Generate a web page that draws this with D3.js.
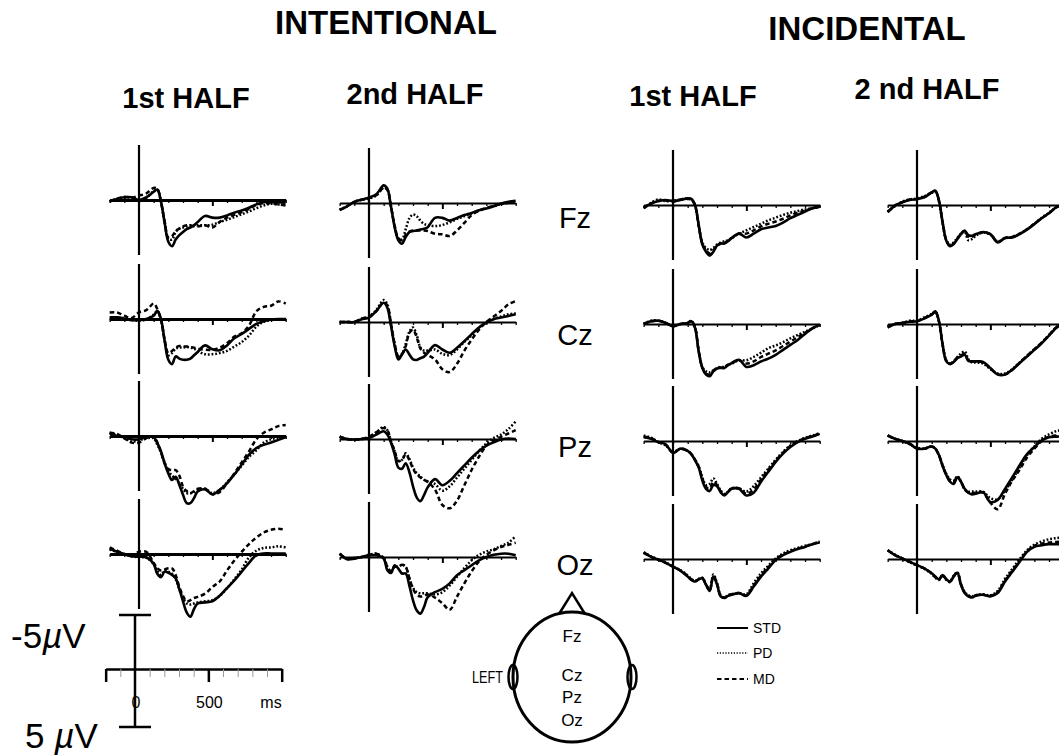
<!DOCTYPE html>
<html>
<head>
<meta charset="utf-8">
<script src="https://cdn.jsdelivr.net/npm/d3@7"></script>
<style>
  html, body { margin: 0; padding: 0; background: #fff; }
  svg { display: block; font-family: "Liberation Sans", Arial, sans-serif; }
</style>
</head>
<body>
<div id="chart"></div>
<script>
// sample times (ms) shared by every waveform
const times = [-200, -150, -100, -50, 0, 50, 100, 125, 150, 175, 200, 225, 250, 275, 300, 325, 350, 375, 400, 450, 500, 550, 600, 650, 700, 750, 800, 850, 900, 950, 1000];

const conditions = ['INTENTIONAL', 'INCIDENTAL'];
const halves = ['1st HALF', '2nd HALF', '1st HALF', '2 nd HALF'];
const electrodes = ['Fz', 'Cz', 'Pz', 'Oz'];
const seriesNames = ['STD', 'PD', 'MD'];
const timeTicks = d3.range(-200, 1001, 100);
const scaleLabels = [{ t: 0, text: '0' }, { t: 500, text: '500' }];

// amplitudes in µV (negative plotted up)
// intentional, 1st half
const int1FzStd = [0.15, -0.1, -0.25, -0.25, 0, -0.25, -0.75, -0.95, 0.15, 2.1, 3.8, 4.2, 3.6, 3.2, 2.9, 2.65, 2.5, 2.3, 2.0, 1.45, 1.6, 1.6, 1.4, 1.15, 0.95, 0.7, 0.4, 0.2, 0.2, 0.2, 0.25];
const int1FzPd  = [0.1, -0.1, -0.2, -0.2, 0, -0.2, -0.8, -0.9, 0.2, 2.0, 3.5, 3.6, 2.9, 2.6, 2.5, 2.4, 2.3, 2.3, 2.3, 2.3, 2.25, 2.0, 1.8, 1.55, 1.3, 1.05, 0.75, 0.5, 0.35, 0.4, 0.45];
const int1FzMd  = [0.1, -0.1, -0.3, -0.2, -0.4, -0.6, -1.1, -1.0, 0.2, 2.0, 3.4, 3.3, 2.8, 2.6, 2.4, 2.3, 2.3, 2.4, 2.4, 2.3, 2.5, 2.0, 1.6, 1.35, 1.1, 0.8, 0.45, 0.3, 0.3, 0.4, 0.5];
const int1CzStd = [-0.15, -0.15, -0.05, 0.1, 0.1, 0, -0.3, -0.75, 0, 2.0, 3.7, 4.1, 3.4, 3.6, 3.7, 3.7, 3.6, 3.3, 3.0, 2.4, 2.75, 2.85, 2.4, 1.75, 1.35, 0.9, 0.45, 0.2, 0.05, 0, 0];
const int1CzPd  = [0, -0.05, 0, 0.1, 0.15, 0.05, -0.4, -0.7, 0.1, 2.0, 3.3, 3.1, 2.7, 2.6, 2.6, 2.55, 2.6, 2.7, 2.9, 3.2, 3.2, 3.1, 2.9, 2.5, 2.1, 1.5, 0.7, 0.25, 0.1, 0.05, 0];
const int1CzMd  = [-0.6, -0.6, -0.3, -0.1, -0.6, -0.8, -1.4, -0.9, 0.1, 1.9, 3.1, 2.9, 2.6, 2.45, 2.5, 2.5, 2.55, 2.6, 2.7, 2.8, 2.8, 2.6, 2.2, 1.6, 1.3, 0.6, -0.7, -1.1, -1.2, -1.6, -1.4];
const int1PzStd = [-0.25, 0, 0.1, 0.3, 0.3, 0.05, 0.1, 0.65, 1.4, 2.5, 3.4, 4.0, 3.7, 4.45, 5.35, 6.1, 6.1, 5.65, 5.05, 4.85, 5.3, 4.9, 4.3, 3.5, 2.6, 1.7, 1.1, 0.8, 0.6, 0.35, 0.1];
const int1PzPd  = [-0.3, -0.1, 0.2, 0.5, 0.4, 0.2, 0.2, 0.8, 1.5, 2.4, 3.2, 3.6, 3.9, 4.3, 4.8, 5.2, 5.2, 5.1, 4.9, 4.8, 5.2, 4.9, 4.2, 3.5, 2.7, 1.9, 1.3, 0.6, 0.3, 0.15, 0.1];
const int1PzMd  = [-0.3, -0.2, 0.2, 0.6, 0.6, 0.2, 0.05, 0.6, 1.5, 2.5, 3.0, 3.1, 3.1, 3.6, 4.6, 5.0, 5.2, 5.0, 4.8, 4.8, 5.3, 5.1, 4.3, 3.4, 2.4, 1.4, 0.3, -0.3, -0.6, -0.9, -1.0];
const int1OzStd = [-0.5, -0.2, 0, 0.2, 0.25, 0.3, 0.9, 1.8, 2.1, 1.6, 1.7, 1.9, 2.2, 3.2, 4.3, 5.3, 5.7, 5.0, 4.5, 4.4, 4.3, 3.8, 3.1, 2.4, 1.6, 0.8, 0.1, -0.05, -0.05, -0.05, -0.05];
const int1OzPd  = [-0.4, -0.2, 0.05, 0.2, 0.3, 0.35, 0.9, 1.5, 1.9, 1.5, 1.6, 1.8, 2.3, 3.2, 4.0, 4.5, 4.6, 4.5, 4.4, 4.3, 4.2, 3.8, 3.1, 2.3, 1.4, 0.3, -0.3, -0.55, -0.6, -0.7, -0.6];
const int1OzMd  = [-0.6, -0.3, 0, 0.2, -0.2, -0.2, 0.8, 1.3, 1.5, 1.4, 1.3, 1.3, 1.9, 3.0, 3.8, 4.3, 4.2, 4.0, 3.9, 3.6, 3.0, 2.5, 1.5, 0.6, -0.2, -0.9, -1.5, -1.95, -2.2, -2.3, -2.2];

// intentional, 2nd half
const int2FzStd = [0.65, 0.3, -0.1, -0.3, -0.5, -0.8, -1.6, -1.3, 0.35, 2.2, 3.4, 3.7, 3.1, 2.65, 2.55, 2.5, 2.4, 2.35, 2.2, 1.35, 1.35, 1.6, 1.35, 1.1, 0.9, 0.65, 0.5, 0.3, 0.05, -0.1, -0.2];
const int2FzPd  = [0.6, 0.3, -0.1, -0.3, -0.4, -0.7, -1.4, -1.2, 0.3, 2.1, 3.2, 3.3, 2.4, 1.4, 1.05, 1.2, 1.6, 1.9, 2.0, 2.1, 2.0, 1.75, 1.45, 1.2, 0.95, 0.7, 0.5, 0.3, 0.1, 0, -0.1];
const int2FzMd  = [0.6, 0.3, -0.1, -0.3, -0.45, -0.7, -1.4, -1.2, 0.3, 2.1, 3.2, 3.4, 2.9, 2.6, 2.5, 2.5, 2.5, 2.5, 2.55, 2.8, 2.85, 3.0, 2.5, 1.8, 1.1, 0.7, 0.45, 0.25, 0.1, -0.05, -0.1];
const int2CzStd = [0, 0, 0, -0.25, -0.4, -1.0, -1.75, -1.3, 0.35, 2.2, 3.4, 2.95, 2.5, 2.95, 3.4, 3.45, 3.3, 3.15, 2.8, 2.1, 2.5, 2.8, 2.35, 1.75, 1.1, 0.5, 0.05, -0.25, -0.4, -0.55, -0.7];
const int2CzPd  = [0, 0, 0, -0.3, -0.5, -1.1, -2.0, -1.6, 0.2, 2.0, 3.1, 2.9, 2.0, 0.9, 0.5, 1.2, 2.3, 2.6, 2.6, 2.5, 2.9, 3.0, 2.5, 1.8, 1.2, 0.5, 0, -0.3, -0.5, -0.7, -0.8];
const int2CzMd  = [0, 0, 0, -0.3, -0.5, -1.0, -1.8, -1.5, 0.2, 2.0, 3.1, 2.9, 2.2, 1.0, 0.7, 1.4, 2.4, 2.8, 3.0, 3.4, 4.3, 4.55, 3.8, 2.6, 1.6, 0.7, 0, -0.5, -1.0, -1.6, -1.9];
const int2PzStd = [-0.2, 0, 0.05, 0, -0.1, -0.4, -0.7, -0.4, 0.35, 1.4, 2.6, 2.7, 2.2, 3.0, 4.3, 5.3, 5.65, 5.1, 4.4, 3.65, 4.2, 3.8, 3.1, 2.4, 1.7, 1.1, 0.6, 0.3, 0.05, -0.05, 0];
const int2PzPd  = [-0.2, 0, 0.05, 0, -0.2, -0.6, -1.1, -0.8, 0.2, 1.1, 2.0, 1.9, 1.3, 1.8, 2.6, 3.1, 3.4, 3.7, 3.85, 4.1, 4.7, 4.3, 3.5, 2.7, 1.9, 1.1, 0.4, -0.1, -0.4, -0.9, -1.6];
const int2PzMd  = [-0.2, 0, 0.05, 0, -0.2, -0.6, -1.0, -0.8, 0.2, 1.1, 2.0, 1.9, 1.4, 1.9, 2.7, 3.2, 3.5, 3.7, 3.9, 4.6, 6.0, 6.3, 5.6, 4.2, 2.8, 1.6, 0.6, 0.1, -0.2, -0.5, -0.8];
const int2OzStd = [-0.3, 0.2, 0.15, 0, -0.15, -0.15, 0.15, 1.2, 1.45, 0.75, 1.05, 1.5, 1.5, 2.6, 3.95, 4.85, 5.15, 4.55, 3.65, 3.2, 2.9, 2.4, 1.65, 1.2, 0.75, 0.3, 0, -0.2, -0.3, -0.3, -0.15];
const int2OzPd  = [-0.3, 0.15, 0.1, 0, -0.2, -0.3, 0.1, 0.9, 1.3, 0.9, 0.9, 0.7, 0.9, 1.9, 2.8, 3.2, 3.3, 3.3, 3.3, 3.4, 3.2, 2.6, 1.8, 1.0, 0.3, -0.2, -0.5, -0.7, -1.0, -1.3, -1.9];
const int2OzMd  = [-0.3, 0.15, 0.1, 0, -0.2, -0.3, 0.1, 0.9, 1.3, 0.9, 0.9, 0.7, 0.9, 1.9, 2.9, 3.4, 3.6, 3.5, 3.4, 3.7, 4.2, 4.8, 3.6, 2.4, 1.3, 0.4, -0.2, -0.6, -0.9, -1.1, -1.3];

// incidental, 1st half
const inc1FzStd = [0.3, -0.15, -0.35, -0.45, -0.35, -0.45, -0.6, -0.55, 0, 1.8, 3.6, 4.25, 4.6, 4.25, 3.7, 3.5, 3.5, 3.3, 3.0, 2.6, 2.95, 2.6, 2.2, 2.05, 1.9, 1.6, 1.2, 0.9, 0.6, 0.3, 0.15];
const inc1FzPd  = [0.3, -0.2, -0.5, -0.35, -0.4, -0.5, -0.6, -0.5, 0, 1.8, 3.4, 3.9, 4.1, 3.9, 3.6, 3.4, 3.3, 3.2, 3.0, 2.6, 2.3, 2.0, 1.7, 1.4, 1.15, 0.9, 0.7, 0.55, 0.4, 0.3, 0.15];
const inc1FzMd  = [0.25, -0.1, -0.4, -0.4, -0.3, -0.5, -0.55, -0.5, 0.05, 1.9, 3.5, 4.1, 4.4, 4.1, 3.7, 3.5, 3.4, 3.25, 3.0, 2.6, 2.6, 2.3, 1.95, 1.7, 1.5, 1.25, 0.95, 0.7, 0.5, 0.3, 0.15];
const inc1CzStd = [0, -0.25, -0.3, -0.1, 0.2, 0, -0.1, -0.25, 0.35, 2.5, 4.0, 4.6, 4.75, 4.3, 4.05, 4.0, 4.0, 3.75, 3.55, 3.25, 3.9, 3.75, 3.4, 3.15, 2.8, 2.35, 1.9, 1.45, 0.9, 0.4, 0.05];
const inc1CzPd  = [0, -0.3, -0.3, -0.1, 0.2, 0, -0.1, -0.3, 0.3, 2.4, 3.9, 4.3, 4.4, 4.2, 4.0, 3.9, 3.9, 3.7, 3.6, 3.3, 3.3, 3.0, 2.6, 2.2, 1.95, 1.65, 1.3, 1.0, 0.7, 0.4, 0.1];
const inc1CzMd  = [0, -0.25, -0.3, -0.1, 0.2, 0, -0.1, -0.25, 0.3, 2.45, 3.95, 4.5, 4.6, 4.25, 4.0, 3.95, 3.95, 3.7, 3.55, 3.3, 3.6, 3.4, 3.0, 2.7, 2.4, 2.0, 1.6, 1.2, 0.8, 0.4, 0.1];
const inc1PzStd = [-0.35, -0.2, 0.1, 0.3, 1.1, 0.7, 0.9, 1.2, 1.75, 2.4, 3.6, 4.35, 4.55, 4.0, 4.1, 4.65, 4.95, 4.65, 4.35, 4.35, 4.95, 4.7, 3.7, 2.8, 1.9, 1.15, 0.55, 0.1, -0.2, -0.4, -0.65];
const inc1PzPd  = [-0.5, -0.3, 0.1, 0.4, 1.0, 0.7, 0.9, 1.2, 1.7, 2.3, 3.3, 4.0, 3.9, 3.4, 3.9, 4.5, 4.8, 4.6, 4.3, 4.3, 4.6, 4.1, 3.3, 2.5, 1.7, 1.0, 0.4, 0, -0.3, -0.5, -0.7];
const inc1PzMd  = [-0.4, -0.25, 0.1, 0.35, 1.05, 0.7, 0.9, 1.2, 1.7, 2.35, 3.4, 4.2, 4.3, 3.7, 4.0, 4.6, 4.9, 4.6, 4.3, 4.3, 4.8, 4.4, 3.5, 2.6, 1.8, 1.05, 0.45, 0.05, -0.25, -0.45, -0.7];
const inc1OzStd = [-0.6, -0.2, 0.05, 0.35, 0.7, 1.05, 1.6, 1.9, 2.05, 1.85, 1.75, 2.35, 2.9, 1.6, 2.3, 3.4, 3.55, 3.35, 3.25, 3.1, 3.35, 2.5, 1.6, 0.85, 0.1, -0.35, -0.65, -0.9, -1.1, -1.35, -1.5];
const inc1OzPd  = [-0.6, -0.25, 0.05, 0.3, 0.7, 1.0, 1.5, 1.8, 2.0, 1.8, 1.7, 2.3, 2.8, 1.4, 2.2, 3.3, 3.5, 3.3, 3.2, 3.1, 3.2, 2.2, 1.3, 0.6, -0.05, -0.5, -0.8, -1.0, -1.2, -1.35, -1.6];
const inc1OzMd  = [-0.55, -0.2, 0.05, 0.35, 0.7, 1.05, 1.55, 1.85, 2.0, 1.85, 1.75, 2.3, 2.85, 1.5, 2.25, 3.35, 3.5, 3.3, 3.2, 3.1, 3.3, 2.4, 1.5, 0.75, 0.05, -0.4, -0.7, -0.95, -1.15, -1.35, -1.55];

// incidental, 2nd half
const inc2FzStd = [0.65, 0.05, -0.25, -0.45, -0.55, -0.7, -1.15, -1.3, -0.4, 1.6, 3.25, 3.75, 3.55, 3.1, 2.65, 2.35, 2.75, 2.8, 2.65, 2.45, 2.65, 3.4, 3.0, 2.95, 2.65, 2.25, 1.75, 1.2, 0.75, 0.2, 0];
const inc2FzPd  = [0.6, 0.1, -0.3, -0.5, -0.6, -0.8, -1.1, -1.2, -0.3, 1.7, 3.2, 3.6, 3.4, 3.0, 2.6, 2.4, 3.2, 3.1, 2.8, 2.5, 2.7, 3.3, 3.0, 2.9, 2.6, 2.2, 1.7, 1.15, 0.7, 0.2, 0];
const inc2FzMd  = [0.65, 0.05, -0.25, -0.5, -0.55, -0.75, -1.15, -1.25, -0.35, 1.65, 3.2, 3.7, 3.5, 3.05, 2.6, 2.35, 2.9, 2.9, 2.7, 2.5, 2.65, 3.35, 3.0, 2.9, 2.6, 2.2, 1.7, 1.2, 0.75, 0.2, 0];
const inc2CzStd = [0.3, 0, -0.1, -0.2, -0.25, -0.5, -0.85, -1.15, -0.25, 1.9, 3.4, 3.65, 3.45, 3.1, 2.95, 2.8, 3.35, 3.4, 3.4, 3.45, 4.0, 4.6, 4.6, 4.15, 3.55, 2.95, 2.35, 1.75, 1.05, 0.35, -0.1];
const inc2CzPd  = [0.25, 0, -0.1, -0.3, -0.3, -0.6, -0.9, -1.1, -0.2, 1.9, 3.3, 3.6, 3.4, 3.0, 2.7, 2.5, 3.2, 3.5, 3.5, 3.6, 4.1, 4.5, 4.5, 4.1, 3.5, 2.9, 2.3, 1.7, 1.0, 0.3, -0.1];
const inc2CzMd  = [0.3, 0, -0.1, -0.25, -0.25, -0.55, -0.85, -1.1, -0.2, 1.9, 3.35, 3.6, 3.4, 3.05, 2.85, 2.7, 3.3, 3.4, 3.4, 3.5, 4.05, 4.55, 4.6, 4.15, 3.5, 2.9, 2.3, 1.7, 1.0, 0.3, -0.1];
const inc2PzStd = [-0.5, -0.2, 0, 0.25, 0.7, 0.7, 0.5, 0.7, 1.3, 2.3, 3.1, 3.7, 3.9, 3.3, 3.7, 4.35, 4.7, 4.85, 4.8, 4.65, 5.55, 5.35, 4.35, 3.3, 2.2, 1.2, 0.55, -0.05, -0.35, -0.4, -0.4];
const inc2PzPd  = [-0.5, -0.2, 0, 0.3, 0.6, 0.7, 0.5, 0.7, 1.3, 2.2, 3.0, 3.5, 3.6, 3.2, 3.7, 4.4, 4.6, 4.6, 4.6, 4.6, 5.2, 5.3, 4.5, 3.5, 2.4, 1.3, 0.5, -0.2, -0.6, -0.9, -1.0];
const inc2PzMd  = [-0.5, -0.2, 0, 0.25, 0.65, 0.7, 0.5, 0.7, 1.3, 2.25, 3.05, 3.6, 3.7, 3.25, 3.7, 4.4, 4.7, 4.75, 4.7, 4.7, 5.6, 6.2, 4.8, 3.6, 2.6, 1.5, 0.7, 0, -0.4, -0.5, -0.5];
const inc2OzStd = [-0.8, -0.35, -0.05, 0.25, 0.55, 0.85, 1.3, 1.6, 1.85, 1.45, 1.85, 2.05, 1.6, 1.25, 2.35, 3.1, 3.4, 3.5, 3.35, 3.25, 3.4, 3.1, 2.05, 1.15, 0.25, -0.65, -1.1, -1.25, -1.35, -1.35, -1.35];
const inc2OzPd  = [-0.8, -0.4, -0.05, 0.3, 0.6, 0.9, 1.35, 1.7, 1.9, 1.5, 1.9, 2.1, 1.5, 1.2, 2.3, 3.0, 3.3, 3.4, 3.3, 3.2, 3.3, 2.9, 1.8, 0.9, 0, -0.8, -1.3, -1.6, -1.8, -1.9, -2.0];
const inc2OzMd  = [-0.8, -0.35, -0.05, 0.25, 0.55, 0.85, 1.3, 1.65, 1.85, 1.45, 1.85, 2.05, 1.55, 1.25, 2.3, 3.05, 3.35, 3.45, 3.3, 3.25, 3.35, 3.0, 1.95, 1.05, 0.15, -0.7, -1.2, -1.4, -1.5, -1.55, -1.6];

// lookup: column -> electrode -> [STD, PD, MD]
const waves = [
  { Fz: [int1FzStd, int1FzPd, int1FzMd], Cz: [int1CzStd, int1CzPd, int1CzMd], Pz: [int1PzStd, int1PzPd, int1PzMd], Oz: [int1OzStd, int1OzPd, int1OzMd] },
  { Fz: [int2FzStd, int2FzPd, int2FzMd], Cz: [int2CzStd, int2CzPd, int2CzMd], Pz: [int2PzStd, int2PzPd, int2PzMd], Oz: [int2OzStd, int2OzPd, int2OzMd] },
  { Fz: [inc1FzStd, inc1FzPd, inc1FzMd], Cz: [inc1CzStd, inc1CzPd, inc1CzMd], Pz: [inc1PzStd, inc1PzPd, inc1PzMd], Oz: [inc1OzStd, inc1OzPd, inc1OzMd] },
  { Fz: [inc2FzStd, inc2FzPd, inc2FzMd], Cz: [inc2CzStd, inc2CzPd, inc2CzMd], Pz: [inc2PzStd, inc2PzPd, inc2PzMd], Oz: [inc2OzStd, inc2OzPd, inc2OzMd] }
];

// layout
const width = 1059, height = 756;
const msPx = 0.1467;      // px per ms
const uvPx = 11;          // px per µV
const colZeroX = [139, 369, 673, 917];
const rowAxisY = [203, 322, 439, 557];
const colShiftY = [-3, 0, 2, 2];
const axisWeight = [3, 2.2, 2.2, 2.2];
const lineStyles = {
  STD: { dash: null, width: 2.6 },
  PD: { dash: '1.8,1.9', width: 2.5 },
  MD: { dash: '4.5,3', width: 2.5 }
};

const svg = d3.select('#chart')
  .append('svg')
  .attr('width', width)
  .attr('height', height);

drawTitles();
colZeroX.forEach((_, c) => electrodes.forEach((_, r) => drawPanel(c, r)));
drawElectrodeLabels();
drawScaleBar();
drawHead();
drawLegend();

function drawTitles() {
  const condPos = [{ x: 386, y: 34 }, { x: 867, y: 40 }];
  conditions.forEach((name, i) => {
    svg.append('text')
      .text(name)
      .attr('x', condPos[i].x)
      .attr('y', condPos[i].y)
      .attr('text-anchor', 'middle')
      .style('font-size', '33px')
      .style('font-weight', 'bold');
  });

  const halfPos = [{ x: 186, y: 108 }, { x: 415, y: 104 }, { x: 693, y: 106 }, { x: 927, y: 99 }];
  halves.forEach((name, i) => {
    svg.append('text')
      .text(name)
      .attr('x', halfPos[i].x)
      .attr('y', halfPos[i].y)
      .attr('text-anchor', 'middle')
      .style('font-size', '29px')
      .style('font-weight', 'bold');
  });
}

function drawPanel(col, row) {
  const x0 = colZeroX[col];
  const axisY = rowAxisY[row] + colShiftY[col];
  const x = d3.scaleLinear().domain([-200, 1000]).range([x0 - 200 * msPx, x0 + 1000 * msPx]);
  const y = d3.scaleLinear().domain([-5, 5]).range([axisY - 5 * uvPx, axisY + 5 * uvPx]);
  const g = svg.append('g');

  const axis = g.append('g')
    .attr('transform', `translate(0,${y(0)})`)
    .call(d3.axisBottom(x).tickValues(timeTicks).tickSize(3).tickSizeOuter(0).tickFormat(''));
  axis.select('.domain').attr('stroke-width', axisWeight[col]);
  axis.selectAll('.tick line').attr('stroke-width', 1.3)
    .filter(d => d === 500).attr('y2', 6).attr('stroke-width', 2);

  g.append('line')
    .attr('x1', x(0)).attr('x2', x(0))
    .attr('y1', y(-5)).attr('y2', y(5))
    .attr('stroke', '#000')
    .attr('stroke-width', 2.2);

  const line = d3.line()
    .x((d, i) => x(times[i]))
    .y(d => y(d))
    .curve(d3.curveCatmullRom.alpha(0.5));

  const set = waves[col][electrodes[row]];
  // draw MD, PD under STD
  [2, 1, 0].forEach(k => {
    const st = lineStyles[seriesNames[k]];
    g.append('path')
      .datum(set[k])
      .attr('d', line)
      .attr('fill', 'none')
      .attr('stroke', '#000')
      .attr('stroke-width', st.width)
      .attr('stroke-dasharray', st.dash);
  });
}

function drawElectrodeLabels() {
  const labelY = [228, 345, 457, 575];
  electrodes.forEach((name, i) => {
    svg.append('text')
      .text(name)
      .attr('x', 575)
      .attr('y', labelY[i])
      .attr('text-anchor', 'middle')
      .style('font-size', '29px');
  });
}

function drawScaleBar() {
  const x0 = 135;
  const x = d3.scaleLinear().domain([-200, 1000]).range([x0 - 200 * msPx, x0 + 1000 * msPx]);
  const y = d3.scaleLinear().domain([-5, 5]).range([615, 727]);
  const g = svg.append('g');

  const axis = g.append('g')
    .attr('transform', `translate(0,${y(0) - 2})`)
    .call(d3.axisBottom(x).tickValues(timeTicks).tickSize(8).tickSizeOuter(0).tickFormat(''));
  axis.select('.domain').attr('stroke-width', 2.5);
  axis.selectAll('.tick line').attr('stroke', '#999').attr('stroke-width', 1);
  axis.selectAll('.tick line')
    .filter(d => d === -200 || d === 500 || d === 1000)
    .attr('stroke', '#000').attr('stroke-width', 2.5).attr('y2', 13);

  g.append('line')
    .attr('x1', x(0)).attr('x2', x(0)).attr('y1', y(-5)).attr('y2', y(5))
    .attr('stroke', '#000').attr('stroke-width', 2.5);
  [-5, 5].forEach(v => {
    g.append('line')
      .attr('x1', x(0) - 16).attr('x2', x(0) + 16)
      .attr('y1', y(v)).attr('y2', y(v))
      .attr('stroke', '#000').attr('stroke-width', 2.5);
  });

  scaleLabels.forEach(l => {
    g.append('text')
      .text(l.text)
      .attr('x', x(l.t) + 1)
      .attr('y', 708)
      .attr('text-anchor', 'middle')
      .style('font-size', '16px');
  });
  g.append('text').text('ms')
    .attr('x', 271).attr('y', 708)
    .attr('text-anchor', 'middle')
    .style('font-size', '16px');

  const top = g.append('text').attr('x', 11).attr('y', 648).style('font-size', '35px');
  top.append('tspan').text('-5');
  top.append('tspan').text('µ').style('font-style', 'italic');
  top.append('tspan').text('V');

  const bottom = g.append('text').attr('x', 25).attr('y', 748).style('font-size', '35px');
  bottom.append('tspan').text('5 ');
  bottom.append('tspan').text('µ').style('font-style', 'italic');
  bottom.append('tspan').text('V');
}

function drawHead() {
  const cx = 572, cy = 677;
  const g = svg.append('g')
    .attr('fill', 'none')
    .attr('stroke', '#000');

  g.append('path')
    .attr('d', `M${cx - 13},${cy - 63} L${cx},${cy - 84} L${cx + 13},${cy - 63}`)
    .attr('stroke-width', 2.5);
  g.append('ellipse')
    .attr('cx', cx).attr('cy', cy).attr('rx', 59).attr('ry', 65)
    .attr('stroke-width', 3);
  [-59, 60].forEach(dx => {
    g.append('ellipse')
      .attr('cx', cx + dx).attr('cy', cy).attr('rx', 4.5).attr('ry', 12)
      .attr('stroke-width', 2.5);
  });

  const headLabelY = [642, 681, 703, 726];
  electrodes.forEach((name, i) => {
    svg.append('text')
      .text(name)
      .attr('x', cx)
      .attr('y', headLabelY[i])
      .attr('text-anchor', 'middle')
      .style('font-size', '17px');
  });

  svg.append('text')
    .text('LEFT')
    .attr('x', 472)
    .attr('y', 683)
    .attr('textLength', 31)
    .attr('lengthAdjust', 'spacingAndGlyphs')
    .style('font-size', '17px');
}

function drawLegend() {
  const legY = [628, 653, 679];
  seriesNames.forEach((name, i) => {
    const st = lineStyles[name];
    svg.append('line')
      .attr('x1', 717).attr('x2', 748)
      .attr('y1', legY[i]).attr('y2', legY[i])
      .attr('stroke', '#000')
      .attr('stroke-width', name === 'PD' ? 1.6 : 2)
      .attr('stroke-dasharray', name === 'PD' ? '1.2,1.6' : st.dash);
    svg.append('text')
      .text(name)
      .attr('x', 753)
      .attr('y', legY[i] + 5)
      .style('font-size', '14px');
  });
}
</script>
</body>
</html>
